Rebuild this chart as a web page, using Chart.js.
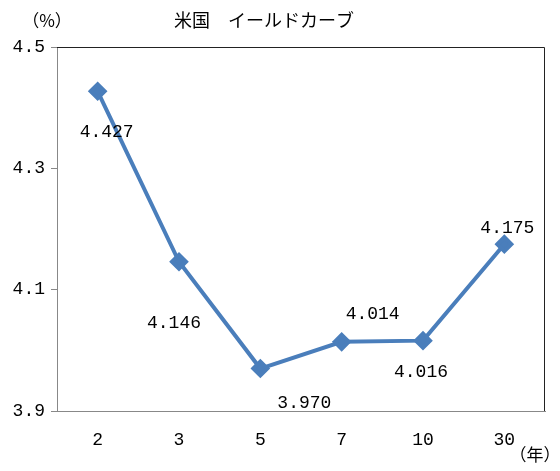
<!DOCTYPE html>
<html>
<head>
<meta charset="utf-8">
<script src="https://cdn.jsdelivr.net/npm/chart.js@4.4.1/dist/chart.umd.min.js"></script>
<style>
  body { margin: 0; background: #fff; }
  canvas { display: block; }
</style>
</head>
<body>
<canvas id="yieldChart" width="560" height="471"></canvas>
<script>
// US yield curve (%), by maturity in years
const maturities = ['2', '3', '5', '7', '10', '30'];
const yields = [4.427, 4.146, 3.970, 4.014, 4.016, 4.175];
const yTicks = [3.9, 4.1, 4.3, 4.5];

// where each value label sits relative to its point (px)
const labelOffsets = [[9, 41], [-5, 61], [44, 35], [31, -28], [-2, 32], [3, -16]];

const monoFont = '"Liberation Mono", "DejaVu Sans Mono", monospace';
const jpFont = '"Noto Sans CJK JP", sans-serif';

const extras = {
    id: 'extras',
    afterDraw(chart) {
        const c = chart.ctx;
        const area = chart.chartArea;
        c.save();
        // plot frame: top and right in dark
        c.strokeStyle = '#222';
        c.lineWidth = 1;
        c.beginPath();
        c.moveTo(area.left, area.top + 0.5);
        c.lineTo(area.right - 0.5, area.top + 0.5);
        c.lineTo(area.right - 0.5, area.bottom);
        c.stroke();

        // value labels
        const meta = chart.getDatasetMeta(0);
        c.fillStyle = '#000';
        c.font = '18px ' + monoFont;
        c.textAlign = 'center';
        c.textBaseline = 'middle';
        meta.data.forEach((pt, i) => {
            const o = labelOffsets[i];
            c.fillText(yields[i].toFixed(3), pt.x + o[0], pt.y + o[1]);
        });

        // title and axis units
        c.font = '18px ' + jpFont;
        c.fillText('米国　イールドカーブ', 264, 20);
        c.font = '17px ' + jpFont;
        c.fillText('（%）', 47, 21);
        c.fillText('（年）', 535, 455);
        c.restore();
    }
};

const ctx = document.getElementById('yieldChart').getContext('2d');
const yieldChart = new Chart(ctx, {
    type: 'line',
    data: {
        labels: maturities,
        datasets: [{
            data: yields,
            borderColor: '#4a7ebb',
            backgroundColor: '#4a7ebb',
            borderWidth: 4,
            pointStyle: 'rectRot',
            pointRadius: 7,
            pointHoverRadius: 7,
            tension: 0
        }]
    },
    options: {
        responsive: false,
        animation: false,
        layout: { padding: { top: 47, right: 15, left: 0, bottom: 0 } },
        plugins: {
            legend: { display: false },
            tooltip: { enabled: false },
            title: { display: false }
        },
        scales: {
            x: {
                offset: true,
                grid: { display: false },
                border: { display: true, color: '#888' },
                ticks: {
                    color: '#000',
                    padding: 10,
                    font: { family: monoFont, size: 18 }
                },
                afterFit(scale) { scale.height = 60; }
            },
            y: {
                min: 3.9,
                max: 4.5,
                afterBuildTicks(scale) {
                    scale.ticks = yTicks.map(v => ({ value: v }));
                },
                grid: {
                    drawOnChartArea: false,
                    drawTicks: true,
                    tickLength: 6,
                    color: '#888'
                },
                border: { display: true, color: '#888' },
                ticks: {
                    color: '#000',
                    padding: 6,
                    font: { family: monoFont, size: 18 },
                    callback: v => v.toFixed(1)
                },
                afterFit(scale) { scale.width = 57; }
            }
        }
    },
    plugins: [extras]
});
</script>
</body>
</html>
